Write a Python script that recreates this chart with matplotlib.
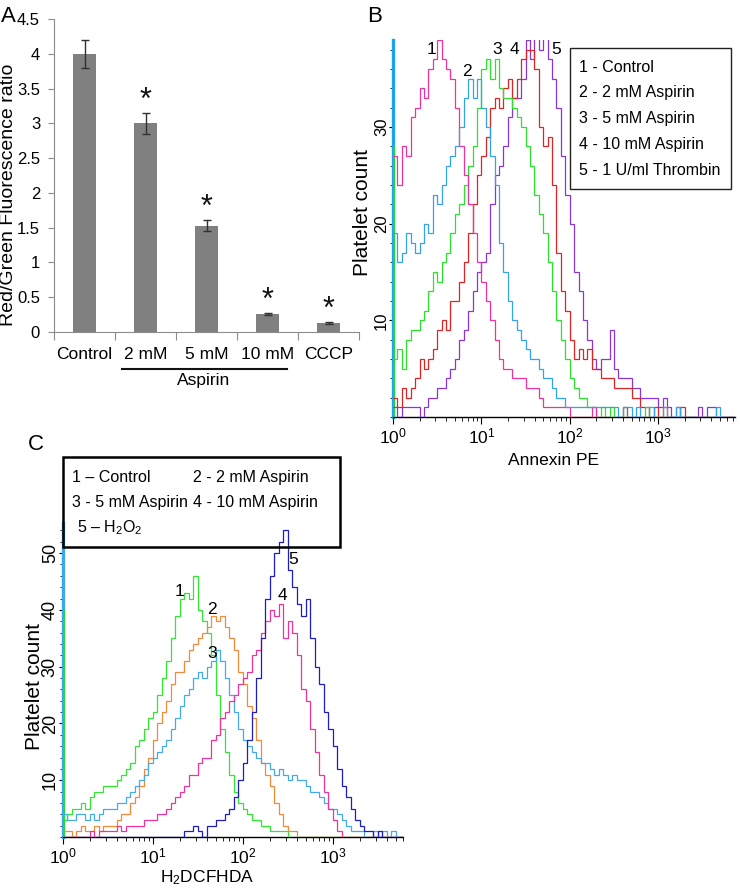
import numpy as np
import matplotlib
matplotlib.use("Agg")
import matplotlib.pyplot as plt
from matplotlib.patches import Rectangle
from matplotlib.lines import Line2D
from matplotlib.ticker import MultipleLocator, FixedLocator

W, H = 740, 892

plt.rcParams["font.family"] = ["Liberation Sans", "DejaVu Sans"]
plt.rcParams["mathtext.fontset"] = "custom"
plt.rcParams["mathtext.rm"] = "Liberation Sans"
plt.rcParams["mathtext.it"] = "Liberation Sans:italic"

# ---- panel A: JC-1 red/green ratio
groups = ["Control", "2 mM", "5 mM", "10 mM", "CCCP"]
ratio = [4.0, 3.0, 1.53, 0.26, 0.13]
ratio_err = [0.2, 0.15, 0.08, 0.015, 0.01]
significant = [False, True, True, True, True]

# ---- panel B: Annexin PE histograms, counts per 0.05-decade channel from 10^0
b_control = [27, 24, 28, 27, 31, 32, 34, 33, 36, 37,
             39, 37, 36, 35, 32, 28, 25, 22, 19, 16,
             14, 12, 10, 8, 6, 5, 5, 4, 4, 4,
             3, 3, 3, 2, 1, 1, 1, 1, 1, 1,
             0, 0, 0, 0, 0, 1, 0, 0, 0, 0,
             0, 0, 1, 0, 0, 0, 0, 0, 0, 0,
             0, 0, 0, 0, 0, 0, 0, 0, 0, 0,
             0, 0, 0, 0, 0, 0, 0, 0]
b_2mm = [19, 16, 17, 19, 18, 17, 18, 20, 19, 23,
         22, 24, 26, 27, 28, 30, 33, 35, 33, 35,
         32, 30, 27, 24, 18, 15, 12, 10, 9, 8,
         7, 6, 6, 5, 4, 4, 3, 2, 2, 1,
         1, 1, 1, 1, 1, 1, 1, 1, 1, 1,
         1, 0, 1, 1, 0, 1, 0, 0, 1, 0,
         0, 1, 0, 0, 1, 0, 0, 0, 0, 0,
         0, 0, 0, 1, 0, 0, 0, 0]
b_5mm = [6, 7, 5, 8, 9, 9, 10, 11, 13, 15,
         14, 16, 17, 19, 21, 22, 24, 26, 28, 32,
         36, 37, 35, 37, 34, 33, 33, 32, 31, 30,
         28, 26, 23, 21, 19, 16, 13, 10, 8, 6,
         4, 3, 2, 2, 1, 1, 0, 1, 0, 1,
         0, 0, 1, 0, 0, 0, 0, 1, 0, 0,
         0, 0, 0, 0, 0, 0, 0, 0, 0, 0,
         0, 0, 0, 0, 0, 0, 0, 0]
b_10mm = [2, 1, 3, 2, 3, 4, 6, 5, 6, 7,
          9, 10, 9, 12, 12, 14, 16, 19, 22, 25,
          27, 29, 32, 33, 32, 34, 35, 33, 35, 37,
          38, 38, 36, 30, 28, 29, 24, 17, 13, 11,
          8, 6, 7, 6, 7, 5, 5, 4, 4, 4,
          3, 3, 3, 3, 2, 2, 1, 1, 0, 1,
          0, 1, 0, 0, 0, 1, 0, 0, 0, 0,
          0, 0, 0, 0, 0, 0, 0, 0]
b_thrombin = [1, 0, 1, 1, 1, 1, 0, 1, 2, 2,
              3, 3, 4, 5, 6, 8, 9, 11, 13, 15,
              16, 17, 22, 25, 26, 28, 31, 33, 33, 35,
              39, 37, 40, 38, 40, 37, 35, 32, 27, 23,
              20, 15, 13, 10, 8, 6, 5, 6, 6, 9,
              5, 4, 4, 4, 3, 3, 2, 2, 2, 2,
              1, 2, 1, 0, 1, 0, 0, 0, 0, 1,
              0, 1, 1, 0, 0, 0, 0, 0]
b_green_first_channel = 28
b_legend = ["1 - Control", "2 - 2 mM Aspirin", "3 - 5 mM Aspirin",
            "4 - 10 mM Aspirin", "5 - 1 U/ml Thrombin"]

# ---- panel C: H2DCFHDA histograms, counts per 0.05-decade channel from 10^0
c_control = [3, 4, 5, 5, 6, 5, 7, 8, 8, 9,
             9, 9, 10, 11, 12, 13, 16, 17, 19, 21,
             22, 25, 28, 31, 35, 39, 42, 43, 42, 46,
             40, 38, 36, 32, 25, 19, 15, 11, 8, 6,
             5, 4, 3, 3, 2, 2, 1, 1, 1, 1,
             0, 0, 0, 0, 0, 0, 0, 0, 0, 0,
             0, 0, 0, 0, 0, 0, 0, 0, 0, 0,
             0, 0, 0, 0, 0, 0]
c_2mm = [1, 1, 0, 1, 2, 1, 1, 2, 1, 2,
         2, 2, 3, 4, 4, 6, 7, 9, 12, 14,
         17, 20, 22, 24, 27, 29, 29, 31, 33, 34,
         35, 36, 37, 39, 38, 39, 37, 35, 33, 29,
         27, 23, 21, 17, 13, 11, 9, 6, 4, 2,
         1, 1, 0, 0, 0, 0, 0, 0, 0, 0,
         0, 0, 0, 0, 0, 0, 0, 0, 0, 0,
         0, 0, 0, 0, 0, 0]
c_5mm = [4, 3, 3, 4, 4, 3, 4, 3, 4, 5,
         5, 5, 6, 6, 7, 8, 9, 10, 11, 13,
         14, 15, 16, 17, 19, 21, 23, 25, 26, 28,
         29, 28, 30, 31, 33, 31, 28, 25, 22, 19,
         17, 16, 15, 14, 13, 13, 12, 11, 12, 11,
         10, 11, 10, 10, 9, 8, 8, 7, 6, 5,
         5, 4, 3, 2, 1, 1, 1, 0, 0, 1,
         0, 1, 0, 1, 0, 0]
c_10mm = [0, 0, 0, 0, 0, 0, 1, 0, 1, 1,
          1, 1, 2, 1, 2, 2, 2, 2, 3, 3,
          3, 4, 4, 5, 6, 7, 8, 9, 11, 11,
          13, 14, 14, 17, 18, 21, 22, 24, 25, 27,
          28, 29, 32, 33, 36, 38, 40, 39, 41, 35,
          38, 36, 32, 26, 24, 19, 15, 11, 8, 5,
          3, 1, 0, 0, 0, 0, 0, 0, 0, 0,
          0, 0, 0, 0, 0, 0]
c_h2o2 = [0, 0, 0, 0, 0, 0, 0, 0, 0, 0,
          0, 0, 0, 0, 0, 0, 0, 0, 0, 0,
          0, 0, 0, 0, 0, 0, 0, 1, 1, 2,
          1, 0, 2, 2, 3, 3, 4, 5, 7, 10,
          13, 17, 22, 28, 35, 42, 46, 50, 52, 54,
          47, 44, 41, 39, 42, 35, 30, 27, 22, 19,
          16, 12, 9, 7, 5, 3, 2, 1, 1, 0,
          1, 0, 0, 0, 0, 0]
c_green_first_channel = 40
c_legend = [["1 \u2013 Control", "2 - 2 mM Aspirin"],
            ["3 - 5 mM Aspirin", "4 - 10 mM Aspirin"],
            ["5 \u2013 $\\mathdefault{H_2O_2}$"]]


def fig_rect(l, t, r, b):
    return [l / W, 1 - b / H, (r - l) / W, (b - t) / H]


def ftext(x, y, s, **kw):
    kw.setdefault("ha", "center")
    kw.setdefault("va", "center")
    fig.text(x / W, 1 - y / H, s, **kw)


def log_edges(n):
    return 10 ** (0.05 * np.arange(n + 1))


fig = plt.figure(figsize=(W / 100, H / 100), dpi=100)

# ================= A =================
axA = fig.add_axes(fig_rect(54, 19, 359, 332))
x = np.arange(len(groups))
axA.bar(x, ratio, width=0.39, color="#808080", zorder=2)
axA.errorbar(x, ratio, yerr=ratio_err, fmt="none", ecolor="#303030",
             elinewidth=1, capsize=3, capthick=1, zorder=3)
for xi, v, e, s in zip(x, ratio, ratio_err, significant):
    if s:
        axA.text(xi, v + e - 0.04, "*", ha="center", va="bottom",
                 fontsize=22, color="#111111")
axA.set_xlim(-0.5, len(groups) - 0.5)
axA.set_ylim(0, 4.5)
axA.yaxis.set_major_locator(MultipleLocator(0.5))
axA.yaxis.set_major_formatter(lambda v, p: f"{v:g}")
axA.xaxis.set_major_locator(FixedLocator(np.arange(len(groups) + 1) - 0.5))
axA.xaxis.set_major_formatter(lambda v, p: "")
axA.xaxis.set_minor_locator(FixedLocator(x))
axA.set_xticklabels(groups, minor=True)
axA.tick_params(axis="x", which="major", length=6, color="#8c8c8c")
axA.tick_params(axis="x", which="minor", length=0, pad=11, labelsize=12.5)
axA.tick_params(axis="y", length=4, color="#8c8c8c", pad=6, labelsize=12)
for side in ["top", "right"]:
    axA.spines[side].set_visible(False)
for side in ["left", "bottom"]:
    axA.spines[side].set_color("#8c8c8c")
fig.add_artist(Line2D([122 / W, 287 / W], [1 - 369 / H] * 2, color="#111111", lw=1.5))
ftext(204, 380, "Aspirin", fontsize=12.5)
ftext(9, 195, "Red/Green Fluorescence ratio", rotation=90, fontsize=14)
ftext(8, 16, "A", fontsize=16)

# ================= B =================
axB = fig.add_axes(fig_rect(393, 40, 735, 417))
edges_b = log_edges(len(b_control))
axB.vlines(10 ** 0.01, 0, b_green_first_channel, color="#22dd22", lw=1.2, zorder=3)
for vals, col in [(b_thrombin, "#8a35d8"), (b_10mm, "#e02424"), (b_5mm, "#2ee02e"),
                  (b_control, "#f0329c"), (b_2mm, "#30a2f0")]:
    assert len(vals) == len(b_control)
    axB.stairs(vals, edges_b, baseline=None, color=col, lw=0.9, zorder=3)
axB.set_xscale("log")
axB.set_xlim(1, 10 ** 3.87)
axB.set_ylim(0, 39)
axB.yaxis.set_major_locator(FixedLocator([10, 20, 30]))
axB.yaxis.set_minor_locator(MultipleLocator(2))

# ================= C =================
axC = fig.add_axes(fig_rect(63, 523, 403, 837))
edges_c = log_edges(len(c_control))
axC.vlines(10 ** 0.01, 0, c_green_first_channel, color="#22dd22", lw=1.2, zorder=3)
for vals, col in [(c_control, "#33e633"), (c_2mm, "#f28a3c"), (c_5mm, "#44aaf0"),
                  (c_10mm, "#f0329c"), (c_h2o2, "#1c1cc8")]:
    assert len(vals) == len(c_control)
    axC.stairs(vals, edges_c, baseline=None, color=col, lw=0.9, zorder=3)
axC.set_xscale("log")
axC.set_xlim(1, 10 ** 3.78)
axC.set_ylim(0, 55.3)
axC.yaxis.set_major_locator(FixedLocator([10, 20, 30, 40, 50]))
axC.yaxis.set_minor_locator(MultipleLocator(2))

for ax, spine_col, ylab_size in [(axB, "#1ea2f0", 12), (axC, "#3aa8f0", 13)]:
    ax.spines["top"].set_visible(False)
    ax.spines["right"].set_visible(False)
    ax.spines["left"].set_color(spine_col)
    ax.spines["left"].set_linewidth(2.4)
    ax.spines["bottom"].set_linewidth(1.0)
    ax.tick_params(axis="x", which="major", length=5, pad=2, labelsize=12.5)
    ax.tick_params(axis="x", which="minor", length=3)
    ax.tick_params(axis="y", which="major", length=3, pad=0, labelsize=ylab_size,
                   labelrotation=90)
    ax.tick_params(axis="y", which="minor", length=2)
    plt.setp(ax.get_yticklabels(), va="center")

# B legend + tags
fig.add_artist(Rectangle((570 / W, 1 - 189 / H), 161 / W, 141 / H, transform=fig.transFigure,
                         facecolor="white", edgecolor="#222222", lw=1.0))
for i, lab in enumerate(b_legend):
    ftext(579, 67 + 25.8 * i, lab, ha="left", fontsize=11.5)
for t, px, py in [("1", 432, 50), ("2", 467, 71), ("3", 497, 50), ("4", 514, 50), ("5", 556, 50)]:
    ftext(px, py, t, fontsize=12.5)
ftext(553, 460, "Annexin PE", fontsize=12.5)
ftext(363, 212, "Platelet count", rotation=90, fontsize=15)
ftext(375, 16, "B", fontsize=16)

# C legend + tags
fig.add_artist(Rectangle((63 / W, 1 - 547 / H), 277 / W, 90 / H, transform=fig.transFigure,
                         facecolor="none", edgecolor="black", lw=1.8))
c_legend_x = [72, 193]
for r, row in enumerate(c_legend):
    for c, lab in enumerate(row):
        ftext(c_legend_x[c] + (5 if r == 2 else 0), 477 + 25.5 * r, lab, ha="left", fontsize=11.5)
for t, px, py in [("1", 180, 592), ("2", 212, 610), ("3", 212, 653), ("4", 282, 595), ("5", 293, 560)]:
    ftext(px, py, t, fontsize=12.5)
ftext(207, 878, "$\\mathdefault{H_2DCFHDA}$", fontsize=12.5)
ftext(34, 687, "Platelet count", rotation=90, fontsize=15)
ftext(36, 444, "C", fontsize=16)

fig.savefig("out.png", dpi=100)
